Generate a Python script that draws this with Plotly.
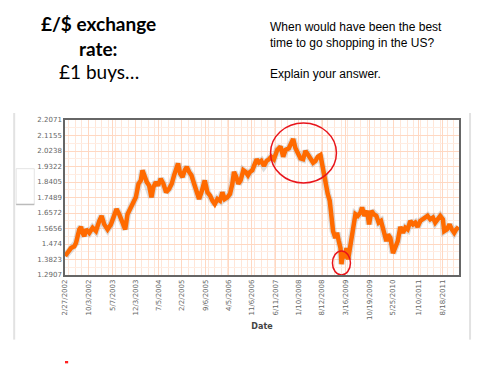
import plotly.graph_objects as go
import pandas as pd

# ---- data (decimal years, GBP->USD rate) ----
years = [2002.16, 2002.223, 2002.307, 2002.390, 2002.432, 2002.515, 2002.557, 2002.599, 2002.641, 2002.682,
         2002.766, 2002.849, 2002.933, 2003.016, 2003.075, 2003.142, 2003.225, 2003.309, 2003.392, 2003.450,
         2003.517, 2003.601, 2003.668, 2003.726, 2003.810, 2003.876, 2003.935, 2004.002, 2004.060, 2004.102,
         2004.144, 2004.210, 2004.269, 2004.327, 2004.377, 2004.436, 2004.494, 2004.561, 2004.628, 2004.695,
         2004.770, 2004.837, 2004.895, 2004.953, 2004.995, 2005.045, 2005.104, 2005.162, 2005.212, 2005.271,
         2005.329, 2005.396, 2005.463, 2005.521, 2005.580, 2005.663, 2005.730, 2005.797, 2005.855, 2005.914,
         2005.981, 2006.047, 2006.106, 2006.164, 2006.231, 2006.298, 2006.356, 2006.398, 2006.456, 2006.507,
         2006.565, 2006.632, 2006.690, 2006.749, 2006.799, 2006.857, 2006.916, 2006.966, 2007.024, 2007.083,
         2007.150, 2007.216, 2007.275, 2007.333, 2007.400, 2007.483, 2007.567, 2007.633, 2007.692, 2007.775,
         2007.834, 2007.884, 2007.942, 2008.001, 2008.068, 2008.134, 2008.193, 2008.251, 2008.318, 2008.385,
         2008.443, 2008.502, 2008.569, 2008.610, 2008.652, 2008.694, 2008.752, 2008.802, 2008.844, 2008.886,
         2008.944, 2008.986, 2009.028, 2009.070, 2009.095, 2009.136, 2009.178, 2009.220, 2009.262, 2009.303,
         2009.362, 2009.404, 2009.445, 2009.504, 2009.571, 2009.612, 2009.671, 2009.738, 2009.788, 2009.846,
         2009.905, 2009.971, 2010.030, 2010.088, 2010.155, 2010.222, 2010.264, 2010.322, 2010.389, 2010.447,
         2010.506, 2010.573, 2010.639, 2010.698, 2010.756, 2010.823, 2010.890, 2010.948, 2011.007, 2011.074,
         2011.140, 2011.199, 2011.257, 2011.324, 2011.391, 2011.449, 2011.508, 2011.575, 2011.641, 2011.675,
         2011.742, 2011.809, 2011.867, 2011.926, 2011.976, 2012.035]
rates = [1.403, 1.42, 1.45, 1.46, 1.48, 1.56, 1.575, 1.54, 1.52, 1.56,
         1.54, 1.57, 1.55, 1.61, 1.64, 1.59, 1.56, 1.59, 1.65, 1.68,
         1.65, 1.60, 1.56, 1.65, 1.69, 1.71, 1.75, 1.83, 1.85, 1.91,
         1.88, 1.84, 1.82, 1.75, 1.81, 1.84, 1.82, 1.86, 1.83, 1.78,
         1.80, 1.83, 1.88, 1.935, 1.95, 1.89, 1.87, 1.91, 1.93, 1.90,
         1.88, 1.83, 1.79, 1.74, 1.78, 1.85, 1.78, 1.76, 1.73, 1.71,
         1.74, 1.73, 1.78, 1.74, 1.75, 1.77, 1.83, 1.90, 1.87, 1.83,
         1.85, 1.91, 1.90, 1.88, 1.90, 1.91, 1.945, 1.975, 1.955, 1.965,
         1.935, 1.965, 1.975, 1.99, 1.975, 2.03, 2.05, 1.99, 2.03, 2.04,
         2.07, 2.095, 2.04, 2.01, 1.98, 1.975, 2.024, 2.005, 1.975, 1.955,
         1.965, 1.99, 2.00, 1.945, 1.87, 1.85, 1.77, 1.73, 1.63, 1.55,
         1.51, 1.54, 1.49, 1.45, 1.355, 1.43, 1.39, 1.45, 1.383, 1.45,
         1.50, 1.59, 1.65, 1.64, 1.66, 1.69, 1.64, 1.67, 1.59, 1.67,
         1.65, 1.64, 1.60, 1.61, 1.55, 1.49, 1.53, 1.51, 1.42, 1.45,
         1.49, 1.575, 1.54, 1.57, 1.56, 1.61, 1.59, 1.60, 1.575, 1.61,
         1.62, 1.63, 1.64, 1.62, 1.63, 1.60, 1.62, 1.64, 1.62, 1.55,
         1.56, 1.59, 1.56, 1.54, 1.56, 1.575]

x_tick_dates = ['2002-02-27', '2002-10-03', '2003-05-07', '2003-12-03', '2004-07-05', '2005-02-02',
                '2005-09-06', '2006-04-05', '2006-11-06', '2007-06-11', '2008-01-10', '2008-08-12',
                '2009-03-16', '2009-10-19', '2010-05-25', '2011-01-10', '2011-08-18']
x_tick_labels = ['2/27/2002', '10/3/2002', '5/7/2003', '12/3/2003', '7/5/2004', '2/2/2005',
                 '9/6/2005', '4/5/2006', '11/6/2006', '6/11/2007', '1/10/2008', '8/12/2008',
                 '3/16/2009', '10/19/2009', '5/25/2010', '1/10/2011', '8/18/2011']
y_tick_vals = [1.2907, 1.3823, 1.474, 1.5656, 1.6572, 1.7489, 1.8405, 1.9322, 2.0238, 2.1155, 2.2071]
y_tick_labels = ['1.2907', '1.3823', '1.474', '1.5656', '1.6572', '1.7489', '1.8405', '1.9322', '2.0238', '2.1155', '2.2071']


def yr_to_date(y):
    yi = int(y)
    return pd.Timestamp(yi, 1, 1) + pd.Timedelta(days=(y - yi) * 365.25)


dates = [yr_to_date(y) for y in years]

fig = go.Figure()
# soft shadow
fig.add_trace(go.Scatter(x=dates, y=rates, mode='lines',
                         line=dict(color='rgba(120,120,120,0.25)', width=7),
                         hoverinfo='skip', showlegend=False))
fig.add_trace(go.Scatter(x=dates, y=rates, mode='lines',
                         line=dict(color='#FF6A00', width=4.5),
                         showlegend=False))

grid_col = '#FFD8C2'
tick_font = dict(family='DejaVu Sans, Verdana, sans-serif', size=7, color='#666666')
fig.update_xaxes(
    type='date',
    range=[pd.Timestamp('2002-02-27'), pd.Timestamp('2012-01-18')],
    tickvals=x_tick_dates, ticktext=x_tick_labels, tickangle=-90,
    tickfont=tick_font,
    showgrid=True, gridcolor=grid_col, gridwidth=1,
    minor=dict(dtick='M2', tick0='2002-02-01', showgrid=True, gridcolor='#FFE6D8', gridwidth=1),
    showline=True, linecolor='#666666', linewidth=1.5, mirror=True,
    ticks='', zeroline=False,
    title=dict(text='<b>Date</b>', font=dict(family='DejaVu Sans, Verdana, sans-serif', size=8, color='#444444'),
               standoff=4),
)
fig.update_yaxes(
    range=[1.2907, 2.2071],
    tickvals=y_tick_vals, ticktext=y_tick_labels,
    tickfont=tick_font,
    showgrid=True, gridcolor=grid_col, gridwidth=1,
    minor=dict(dtick=0.04582, tick0=1.2907, showgrid=True, gridcolor='#FFEDE3', gridwidth=1),
    showline=True, linecolor='#666666', linewidth=1.5, mirror=True,
    ticks='', zeroline=False,
)

# hand-drawn red circles (annotations)
fig.add_shape(type='circle', xref='x', yref='y',
              x0=yr_to_date(2007.316), x1=yr_to_date(2008.97), y0=1.835, y1=2.19,
              line=dict(color='#E8141B', width=1.5))
fig.add_shape(type='circle', xref='x', yref='y',
              x0=yr_to_date(2008.87), x1=yr_to_date(2009.32), y0=1.291, y1=1.433,
              line=dict(color='#E8141B', width=1.5))

# slide decoration
fig.add_shape(type='line', xref='paper', yref='paper', x0=-0.129, x1=-0.129, y0=1.045, y1=-0.417,
              line=dict(color='#E2E2E2', width=2))
fig.add_shape(type='line', xref='paper', yref='paper', x0=1.028, x1=1.028, y0=1.045, y1=-0.417,
              line=dict(color='#E2E2E2', width=2))
fig.add_shape(type='rect', xref='paper', yref='paper', x0=-0.124, x1=-0.078, y0=0.455, y1=0.686,
              line=dict(color='#E4E4E4', width=1), fillcolor='white')
fig.add_shape(type='line', xref='paper', yref='paper', x0=-0.124, x1=-0.078, y0=0.455, y1=0.455,
              line=dict(color='#BBBBBB', width=1.5))
fig.add_shape(type='rect', xref='paper', yref='paper', x0=0.0, x1=0.008, y0=-0.57, y1=-0.555,
              line=dict(width=0), fillcolor='#FF2020')

title_font = 'Lato, Carlito, Calibri, sans-serif'
body_font = 'Liberation Sans, Arial, sans-serif'
anns = [
    dict(text='<b>£/$ exchange</b>', x=0.086, y=1.62, size=19, family=title_font, xanchor='center'),
    dict(text='<b>rate:</b>', x=0.086, y=1.46, size=19, family=title_font, xanchor='center'),
    dict(text='£1 buys…', x=0.086, y=1.31, size=19, family=title_font, xanchor='center'),
    dict(text='When would have been the best', x=0.515, y=1.6, size=12, family=body_font, xanchor='left'),
    dict(text='time to go shopping in the US?', x=0.515, y=1.5, size=12, family=body_font, xanchor='left'),
    dict(text='Explain your answer.', x=0.515, y=1.30, size=12, family=body_font, xanchor='left'),
]
for a in anns:
    fig.add_annotation(text=a['text'], x=a['x'], y=a['y'], xref='paper', yref='paper',
                       xanchor=a['xanchor'], yanchor='middle', showarrow=False,
                       font=dict(family=a['family'], size=a['size'], color='black'))

# page body has a default 8px margin, so offsets are compensated here
fig.update_layout(
    width=500, height=375,
    margin=dict(l=57, r=49, t=112, b=108),
    paper_bgcolor='white', plot_bgcolor='white',
    showlegend=False,
)

fig.write_html('out.html')
